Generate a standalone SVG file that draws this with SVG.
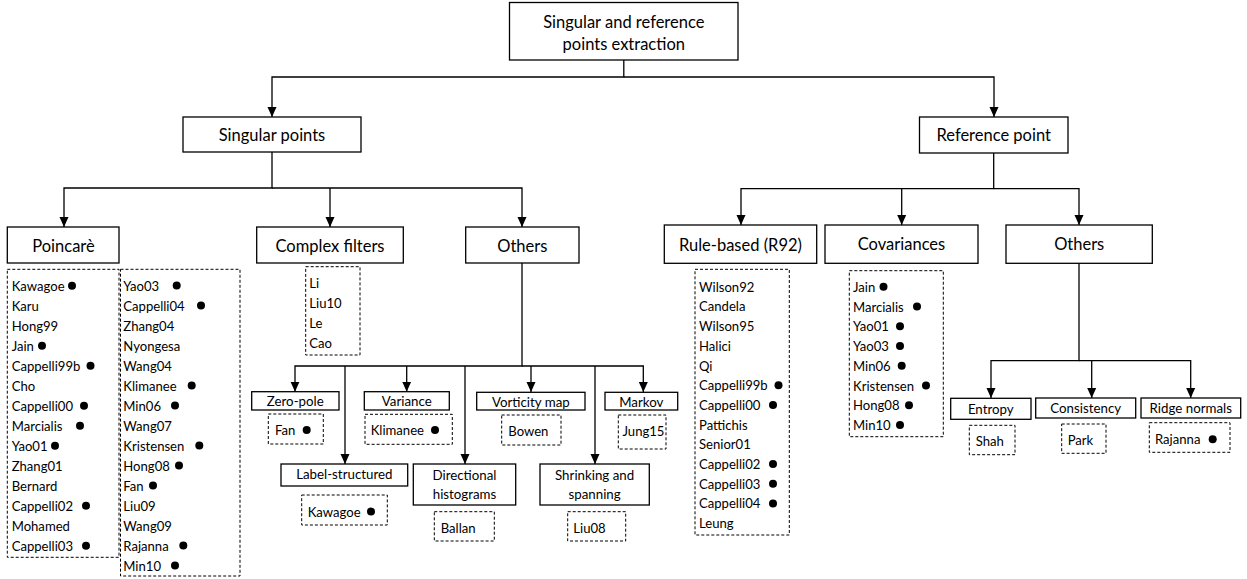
<svg xmlns="http://www.w3.org/2000/svg" width="1247" height="579" viewBox="0 0 1247 579">
<defs>
<marker id="ah" markerWidth="10" markerHeight="10" refX="10" refY="5" orient="auto" markerUnits="userSpaceOnUse"><path d="M0,0.5 L10,5 L0,9.5 z" fill="#000"/></marker>
<style>
.box{fill:#fff;stroke:#000;stroke-width:1.3}
.dbox{fill:none;stroke:#000;stroke-width:1;stroke-dasharray:3,2}
.t1{font-family:Lato,"Liberation Sans",sans-serif;font-size:16.5px;text-anchor:middle;dominant-baseline:central;fill:#000}
.t2{font-family:Lato,"Liberation Sans",sans-serif;font-size:13.3px;text-anchor:middle;dominant-baseline:central;fill:#000}
.li{font-family:Lato,"Liberation Sans",sans-serif;font-size:13.1px;dominant-baseline:central;fill:#000}
.c{fill:none;stroke:#000;stroke-width:1.3}
.ca{fill:none;stroke:#000;stroke-width:1.3;marker-end:url(#ah)}
.dot{fill:#000}
</style>
</defs>
<rect width="1247" height="579" fill="#fff"/>

<g id="connectors">
<path class="ca" d="M623.8,60 V77 H272 V117"/>
<path class="ca" d="M623.8,77 H994 V117"/>
<path class="ca" d="M272,152 V188 H64 V227"/>
<path class="ca" d="M272,188 H522 V227"/>
<path class="ca" d="M330,188 V227"/>
<path class="ca" d="M993.7,153 V188.7 H741 V225"/>
<path class="ca" d="M993.7,188.7 H1079 V225"/>
<path class="ca" d="M901.7,188.7 V225"/>
<path class="ca" d="M522,263 V366 H295 V391.7"/>
<path class="ca" d="M522,366 H643.3 V392"/>
<path class="ca" d="M406.7,366 V391.7"/>
<path class="ca" d="M531,366 V392"/>
<path class="ca" d="M345,366 V464"/>
<path class="ca" d="M465,366 V464"/>
<path class="ca" d="M595,366 V464"/>
<path class="ca" d="M1079,263 V360.7 H991 V398"/>
<path class="ca" d="M1079,360.7 H1190.7 V398"/>
<path class="ca" d="M1091.7,360.7 V398"/>
</g>

<g id="root">
<rect class="box" x="509.5" y="2.5" width="228.5" height="57.5"/>
<text class="t1" x="623.8" y="22">Singular and reference</text>
<text class="t1" x="623.8" y="44">points extraction</text>
</g>

<g id="singular-points">
<rect class="box" x="183" y="117" width="178" height="35"/>
<text class="t1" x="272" y="134.5">Singular points</text>
</g>

<g id="reference-point">
<rect class="box" x="919.5" y="117" width="148.5" height="36"/>
<text class="t1" x="993.7" y="135">Reference point</text>
</g>

<g id="poincare">
<rect class="box" x="7.3" y="227" width="111.7" height="36"/>
<text class="t1" x="63.5" y="245.5">Poincarè</text>
<rect class="dbox" x="7.3" y="269.3" width="111.7" height="288"/>
<text class="li" x="11.7" y="285.7">Kawagoe</text><circle class="dot" cx="72" cy="285.7" r="4"/>
<text class="li" x="11.7" y="305.7">Karu</text>
<text class="li" x="11.7" y="325.7">Hong99</text>
<text class="li" x="11.7" y="345.7">Jain</text><circle class="dot" cx="42" cy="345.7" r="4"/>
<text class="li" x="11.7" y="365.7">Cappelli99b</text><circle class="dot" cx="90.5" cy="365.7" r="4"/>
<text class="li" x="11.7" y="385.7">Cho</text>
<text class="li" x="11.7" y="405.7">Cappelli00</text><circle class="dot" cx="84" cy="405.7" r="4"/>
<text class="li" x="11.7" y="425.7">Marcialis</text><circle class="dot" cx="80" cy="425.7" r="4"/>
<text class="li" x="11.7" y="445.7">Yao01</text><circle class="dot" cx="55" cy="445.7" r="4"/>
<text class="li" x="11.7" y="465.7">Zhang01</text>
<text class="li" x="11.7" y="485.7">Bernard</text>
<text class="li" x="11.7" y="505.7">Cappelli02</text><circle class="dot" cx="86" cy="505.7" r="4"/>
<text class="li" x="11.7" y="525.7">Mohamed</text>
<text class="li" x="11.7" y="545.7">Cappelli03</text><circle class="dot" cx="86" cy="545.7" r="4"/>
<rect class="dbox" x="120.5" y="269.3" width="119.5" height="306.7"/>
<text class="li" x="123.3" y="285.5">Yao03</text><circle class="dot" cx="176.7" cy="285.5" r="4"/>
<text class="li" x="123.3" y="305.5">Cappelli04</text><circle class="dot" cx="201" cy="305.5" r="4"/>
<text class="li" x="123.3" y="325.5">Zhang04</text>
<text class="li" x="123.3" y="345.5">Nyongesa</text>
<text class="li" x="123.3" y="365.5">Wang04</text>
<text class="li" x="123.3" y="385.5">Klimanee</text><circle class="dot" cx="191.7" cy="385.5" r="4"/>
<text class="li" x="123.3" y="405.5">Min06</text><circle class="dot" cx="175" cy="405.5" r="4"/>
<text class="li" x="123.3" y="425.5">Wang07</text>
<text class="li" x="123.3" y="445.5">Kristensen</text><circle class="dot" cx="199.3" cy="445.5" r="4"/>
<text class="li" x="123.3" y="465.5">Hong08</text><circle class="dot" cx="179" cy="465.5" r="4"/>
<text class="li" x="123.3" y="485.5">Fan</text><circle class="dot" cx="153" cy="485.5" r="4"/>
<text class="li" x="123.3" y="505.5">Liu09</text>
<text class="li" x="123.3" y="525.5">Wang09</text>
<text class="li" x="123.3" y="545.5">Rajanna</text><circle class="dot" cx="183.3" cy="545.5" r="4"/>
<text class="li" x="123.3" y="565.5">Min10</text><circle class="dot" cx="175" cy="565.5" r="4"/>
</g>

<g id="complex-filters">
<rect class="box" x="256.7" y="227" width="146.6" height="36"/>
<text class="t1" x="330" y="245.5">Complex filters</text>
<rect class="dbox" x="305.7" y="266.7" width="54.3" height="88.3"/>
<text class="li" x="309.3" y="283.3">Li</text>
<text class="li" x="309.3" y="303.3">Liu10</text>
<text class="li" x="309.3" y="323.3">Le</text>
<text class="li" x="309.3" y="343.3">Cao</text>
</g>

<g id="others-singular">
<rect class="box" x="465.7" y="227" width="113.3" height="36"/>
<text class="t1" x="522.3" y="245.5">Others</text>
</g>

<g id="zero-pole">
<rect class="box" x="251.7" y="391.7" width="87.3" height="18.3"/>
<text class="t2" x="295.3" y="401">Zero-pole</text>
<rect class="dbox" x="268.3" y="414" width="55" height="30"/>
<text class="li" x="275" y="430">Fan</text><circle class="dot" cx="306.7" cy="430" r="4"/>
</g>

<g id="variance">
<rect class="box" x="364.3" y="391.7" width="85" height="18.3"/>
<text class="t2" x="406.8" y="401">Variance</text>
<rect class="dbox" x="365" y="414.3" width="87.3" height="30"/>
<text class="li" x="370.7" y="430">Klimanee</text><circle class="dot" cx="435" cy="430" r="4"/>
</g>

<g id="vorticity-map">
<rect class="box" x="476.7" y="392.3" width="108.3" height="17.7"/>
<text class="t2" x="530.8" y="401.5">Vorticity map</text>
<rect class="dbox" x="501.7" y="415" width="59.3" height="30"/>
<text class="li" x="508.3" y="431">Bowen</text>
</g>

<g id="markov">
<rect class="box" x="605" y="392.3" width="72.7" height="17.7"/>
<text class="t2" x="641.3" y="401.5">Markov</text>
<rect class="dbox" x="618.3" y="415" width="47.7" height="34"/>
<text class="li" x="622.5" y="431">Jung15</text>
</g>

<g id="label-structured">
<rect class="box" x="281" y="464" width="126.7" height="22"/>
<text class="t2" x="344.3" y="474">Label-structured</text>
<rect class="dbox" x="301.7" y="495" width="85.6" height="30"/>
<text class="li" x="307.7" y="511.5">Kawagoe</text><circle class="dot" cx="371" cy="511.5" r="4"/>
</g>

<g id="directional-histograms">
<rect class="box" x="413.3" y="464" width="102.4" height="41"/>
<text class="t2" x="464.5" y="474.5">Directional</text>
<text class="t2" x="464.5" y="493.5">histograms</text>
<rect class="dbox" x="434.3" y="511.7" width="60" height="29.3"/>
<text class="li" x="440.7" y="527.5">Ballan</text>
</g>

<g id="shrinking-and-spanning">
<rect class="box" x="540" y="464" width="109.3" height="41"/>
<text class="t2" x="594.6" y="474.5">Shrinking and</text>
<text class="t2" x="594.6" y="493.5">spanning</text>
<rect class="dbox" x="567.7" y="511.7" width="58" height="29.3"/>
<text class="li" x="573.3" y="527.5">Liu08</text>
</g>

<g id="rule-based">
<rect class="box" x="664.3" y="225" width="152.4" height="38.3"/>
<text class="t1" x="740.5" y="244.5">Rule-based (R92)</text>
<rect class="dbox" x="695" y="269.3" width="94.3" height="265.7"/>
<text class="li" x="699" y="286.7">Wilson92</text>
<text class="li" x="699" y="306.4">Candela</text>
<text class="li" x="699" y="326.1">Wilson95</text>
<text class="li" x="699" y="345.8">Halici</text>
<text class="li" x="699" y="365.5">Qi</text>
<text class="li" x="699" y="385.2">Cappelli99b</text><circle class="dot" cx="778.5" cy="385.2" r="4"/>
<text class="li" x="699" y="404.9">Cappelli00</text><circle class="dot" cx="773" cy="404.9" r="4"/>
<text class="li" x="699" y="424.6">Pattichis</text>
<text class="li" x="699" y="444.3">Senior01</text>
<text class="li" x="699" y="464">Cappelli02</text><circle class="dot" cx="773" cy="464" r="4"/>
<text class="li" x="699" y="483.7">Cappelli03</text><circle class="dot" cx="773" cy="483.7" r="4"/>
<text class="li" x="699" y="503.4">Cappelli04</text><circle class="dot" cx="773" cy="503.4" r="4"/>
<text class="li" x="699" y="523.1">Leung</text>
</g>

<g id="covariances">
<rect class="box" x="825" y="225" width="153" height="38.3"/>
<text class="t1" x="901.5" y="243.5">Covariances</text>
<rect class="dbox" x="849.3" y="270.7" width="94" height="166"/>
<text class="li" x="853" y="286.7">Jain</text><circle class="dot" cx="883.5" cy="286.7" r="4"/>
<text class="li" x="853" y="306.5">Marcialis</text><circle class="dot" cx="917" cy="306.5" r="4"/>
<text class="li" x="853" y="326.2">Yao01</text><circle class="dot" cx="900" cy="326.2" r="4"/>
<text class="li" x="853" y="346">Yao03</text><circle class="dot" cx="900" cy="346" r="4"/>
<text class="li" x="853" y="365.7">Min06</text><circle class="dot" cx="901.7" cy="365.7" r="4"/>
<text class="li" x="853" y="385.5">Kristensen</text><circle class="dot" cx="926" cy="385.5" r="4"/>
<text class="li" x="853" y="405.2">Hong08</text><circle class="dot" cx="909" cy="405.2" r="4"/>
<text class="li" x="853" y="425">Min10</text><circle class="dot" cx="900" cy="425" r="4"/>
</g>

<g id="others-reference">
<rect class="box" x="1006" y="225" width="146.3" height="38.3"/>
<text class="t1" x="1079.2" y="244">Others</text>
</g>

<g id="entropy">
<rect class="box" x="950.7" y="398.3" width="80.3" height="21"/>
<text class="t2" x="990.8" y="409">Entropy</text>
<rect class="dbox" x="969.3" y="425.3" width="45.7" height="29.4"/>
<text class="li" x="975.7" y="441">Shah</text>
</g>

<g id="consistency">
<rect class="box" x="1035.7" y="398" width="100" height="20"/>
<text class="t2" x="1085.7" y="408">Consistency</text>
<rect class="dbox" x="1061.7" y="424" width="44.3" height="29.3"/>
<text class="li" x="1067.7" y="440">Park</text>
</g>

<g id="ridge-normals">
<rect class="box" x="1141" y="398" width="99.7" height="20"/>
<text class="t2" x="1190.8" y="408">Ridge normals</text>
<rect class="dbox" x="1149.3" y="422.7" width="80.7" height="29.6"/>
<text class="li" x="1155" y="439.3">Rajanna</text><circle class="dot" cx="1212.7" cy="439.3" r="4"/>
</g>
</svg>
